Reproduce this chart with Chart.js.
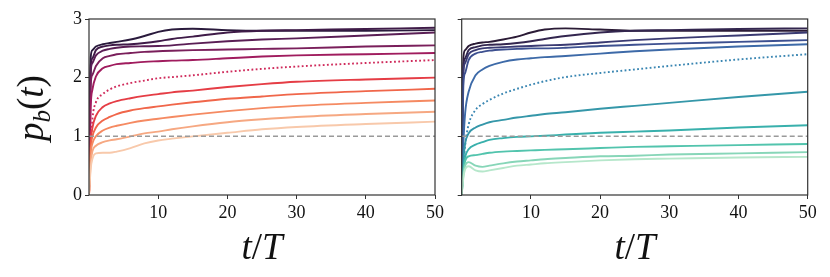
<!DOCTYPE html>
<html>
<head>
<meta charset="utf-8">
<script src="https://cdn.jsdelivr.net/npm/chart.js@4.4.0/dist/chart.umd.min.js"></script>
<style>
  html, body { margin: 0; padding: 0; background: #fff; }
  #wrap { position: relative; width: 830px; height: 277px; overflow: hidden; }
  canvas { position: absolute; top: 0; }
  #leftChart { left: 0; }
  #rightChart { left: 440px; }
  .lbl { position: absolute; font-family: "Liberation Serif", "DejaVu Serif", serif; color: #111; white-space: nowrap; line-height: 1; }
  .xlab { top: 246px; font-size: 37px; transform: translate(-50%, -50%); }
  .ylab { left: 33px; top: 108px; font-size: 37px; transform: translate(-50%, -50%) rotate(-90deg); }
  .ylab sub { font-size: 25px; vertical-align: -7px; }
</style>
</head>
<body>
<div id="wrap">
  <canvas id="leftChart" width="452" height="277"></canvas>
  <canvas id="rightChart" width="390" height="277"></canvas>
  <div class="lbl ylab"><i>p</i><sub><i>b</i></sub>(<i>t</i>)</div>
  <div class="lbl xlab" style="left:262px"><i>t</i>/<i>T</i></div>
  <div class="lbl xlab" style="left:635px"><i>t</i>/<i>T</i></div>
</div>
<script>
// time samples (t/T) shared by all curves
const tGrid = [0, 0.25, 0.5, 1, 2, 3, 4, 6, 8, 10, 12, 15, 20, 25, 30, 40, 50];
const xTicks = [10, 20, 30, 40, 50];
const yTicks = [0, 1, 2, 3];
const refLevel = 1;
const dottedIndex = 5;

// left panel, darkest to lightest
const leftCurves = [
  [0, 2.35, 2.47, 2.53, 2.57, 2.59, 2.61, 2.65, 2.71, 2.78, 2.82, 2.835, 2.81, 2.80, 2.80, 2.80, 2.81],
  [0, 2.2, 2.33, 2.47, 2.53, 2.55, 2.56, 2.57, 2.59, 2.62, 2.66, 2.70, 2.77, 2.80, 2.81, 2.83, 2.85],
  [0, 2.1, 2.25, 2.38, 2.46, 2.49, 2.51, 2.53, 2.535, 2.54, 2.55, 2.58, 2.62, 2.65, 2.67, 2.72, 2.77],
  [0, 1.9, 2.05, 2.2, 2.33, 2.37, 2.4, 2.42, 2.44, 2.45, 2.46, 2.47, 2.48, 2.49, 2.50, 2.53, 2.55],
  [0, 1.5, 1.8, 2.02, 2.16, 2.2, 2.23, 2.25, 2.27, 2.28, 2.29, 2.30, 2.33, 2.36, 2.38, 2.40, 2.42],
  [0, 0.8, 1.3, 1.58, 1.72, 1.8, 1.85, 1.91, 1.95, 1.99, 2.01, 2.04, 2.1, 2.15, 2.19, 2.25, 2.30],
  [0, 0.9, 1.15, 1.35, 1.5, 1.56, 1.6, 1.65, 1.69, 1.72, 1.75, 1.78, 1.84, 1.89, 1.93, 1.97, 2.00],
  [0, 0.8, 1.0, 1.15, 1.27, 1.33, 1.38, 1.44, 1.48, 1.51, 1.54, 1.58, 1.64, 1.68, 1.72, 1.77, 1.81],
  [0, 0.7, 0.88, 1.0, 1.1, 1.15, 1.18, 1.23, 1.27, 1.3, 1.33, 1.37, 1.43, 1.48, 1.52, 1.57, 1.61],
  [0, 0.55, 0.75, 0.84, 0.9, 0.93, 0.95, 1.0, 1.05, 1.08, 1.12, 1.17, 1.24, 1.29, 1.33, 1.38, 1.42],
  [0, 0.45, 0.62, 0.71, 0.72, 0.72, 0.74, 0.8, 0.88, 0.93, 0.96, 1.0, 1.06, 1.12, 1.16, 1.21, 1.25],
];

// right panel, darkest to lightest
const rightCurves = [
  [0, 2.35, 2.47, 2.54, 2.58, 2.6, 2.61, 2.65, 2.7, 2.77, 2.82, 2.84, 2.82, 2.80, 2.80, 2.80, 2.80],
  [0, 2.2, 2.33, 2.47, 2.52, 2.55, 2.56, 2.57, 2.59, 2.62, 2.66, 2.71, 2.77, 2.80, 2.81, 2.83, 2.84],
  [0, 2.1, 2.25, 2.4, 2.47, 2.5, 2.51, 2.52, 2.53, 2.54, 2.55, 2.56, 2.6, 2.64, 2.67, 2.72, 2.77],
  [0, 1.9, 2.08, 2.3, 2.41, 2.44, 2.46, 2.48, 2.49, 2.5, 2.5, 2.51, 2.54, 2.56, 2.58, 2.61, 2.64],
  [0, 0.9, 1.4, 1.76, 2.04, 2.14, 2.2, 2.27, 2.31, 2.33, 2.35, 2.37, 2.41, 2.45, 2.48, 2.53, 2.57],
  [0, 0.5, 0.85, 1.2, 1.45, 1.55, 1.62, 1.73, 1.81, 1.88, 1.94, 2.01, 2.08, 2.14, 2.2, 2.31, 2.40],
  [0, 0.6, 0.88, 1.05, 1.15, 1.2, 1.24, 1.28, 1.32, 1.35, 1.38, 1.41, 1.47, 1.52, 1.57, 1.67, 1.76],
  [0, 0.45, 0.65, 0.78, 0.86, 0.9, 0.94, 0.97, 0.99, 1.0, 1.01, 1.03, 1.06, 1.08, 1.1, 1.15, 1.19],
  [0, 0.4, 0.58, 0.66, 0.68, 0.7, 0.72, 0.74, 0.75, 0.76, 0.77, 0.78, 0.8, 0.82, 0.83, 0.85, 0.87],
  [0, 0.35, 0.5, 0.56, 0.5, 0.48, 0.5, 0.54, 0.57, 0.59, 0.61, 0.63, 0.66, 0.67, 0.69, 0.71, 0.73],
  [0, 0.3, 0.44, 0.49, 0.42, 0.4, 0.42, 0.46, 0.5, 0.52, 0.54, 0.56, 0.59, 0.61, 0.62, 0.64, 0.65],
];

const leftColors = ["#2a1a3c", "#3f1b48", "#5a1e55", "#7a1f5b", "#a01c5e", "#cf2a5b",
  "#e53d45", "#f0664a", "#f58a62", "#f6a882", "#f8c9ab"];
const rightColors = ["#2b1b36", "#33264f", "#3a3a72", "#3d5090", "#3d6aa8", "#3a86b2",
  "#3597a9", "#39b0ac", "#52c4ad", "#87d6b8", "#b6e7cb"];

const axisColor = "#333";
const tickFont = { family: "Liberation Serif", size: 18 };

// box around the plotting area
const framePlugin = {
  id: "frame",
  afterDraw(chart) {
    const { ctx, chartArea: a } = chart;
    ctx.save();
    ctx.strokeStyle = axisColor;
    ctx.lineWidth = 1.2;
    ctx.strokeRect(a.left, a.top, a.right - a.left, a.bottom - a.top);
    ctx.restore();
  },
};

function makePanel(id, curves, colors, yAxisWidth, padRight, showYLabels) {
  const datasets = [
    {
      data: [{ x: 0, y: refLevel }, { x: 50, y: refLevel }],
      borderColor: "#9a9a9a",
      borderWidth: 1.5,
      borderDash: [5, 3],
    },
  ];
  curves.forEach((vals, i) => {
    datasets.push({
      data: tGrid.map((t, k) => ({ x: t, y: vals[k] })),
      borderColor: colors[i],
      borderWidth: 1.9,
      borderDash: i === dottedIndex ? [1.8, 2.4] : [],
      cubicInterpolationMode: "monotone",
      order: curves.length - i,
    });
  });
  datasets[0].order = 0;

  return new Chart(document.getElementById(id), {
    type: "line",
    data: { datasets },
    options: {
      responsive: false,
      animation: false,
      events: [],
      layout: { padding: { top: 19, right: padRight, left: 0, bottom: 0 } },
      elements: { point: { radius: 0 } },
      plugins: { legend: { display: false }, tooltip: { enabled: false } },
      scales: {
        x: {
          type: "linear",
          min: 0,
          max: 50,
          afterBuildTicks: (s) => { s.ticks = xTicks.map((v) => ({ value: v })); },
          afterFit: (s) => { s.height = 82; },
          border: { display: false },
          grid: { drawOnChartArea: false, drawTicks: true, tickLength: 4, tickColor: axisColor },
          ticks: { font: tickFont, color: "#111", padding: 3, maxRotation: 0 },
        },
        y: {
          min: 0,
          max: 3,
          afterBuildTicks: (s) => { s.ticks = yTicks.map((v) => ({ value: v })); },
          afterFit: (s) => { s.width = yAxisWidth; },
          border: { display: false },
          grid: { drawOnChartArea: false, drawTicks: true, tickLength: 4, tickColor: axisColor },
          ticks: {
            font: tickFont,
            color: "#111",
            padding: 3,
            callback: (v) => (showYLabels ? String(v) : ""),
          },
        },
      },
    },
    plugins: [framePlugin],
  });
}

makePanel("leftChart", leftCurves, leftColors, 89, 17, true);
makePanel("rightChart", rightCurves, rightColors, 21.7, 22.3, false);
</script>
</body>
</html>
